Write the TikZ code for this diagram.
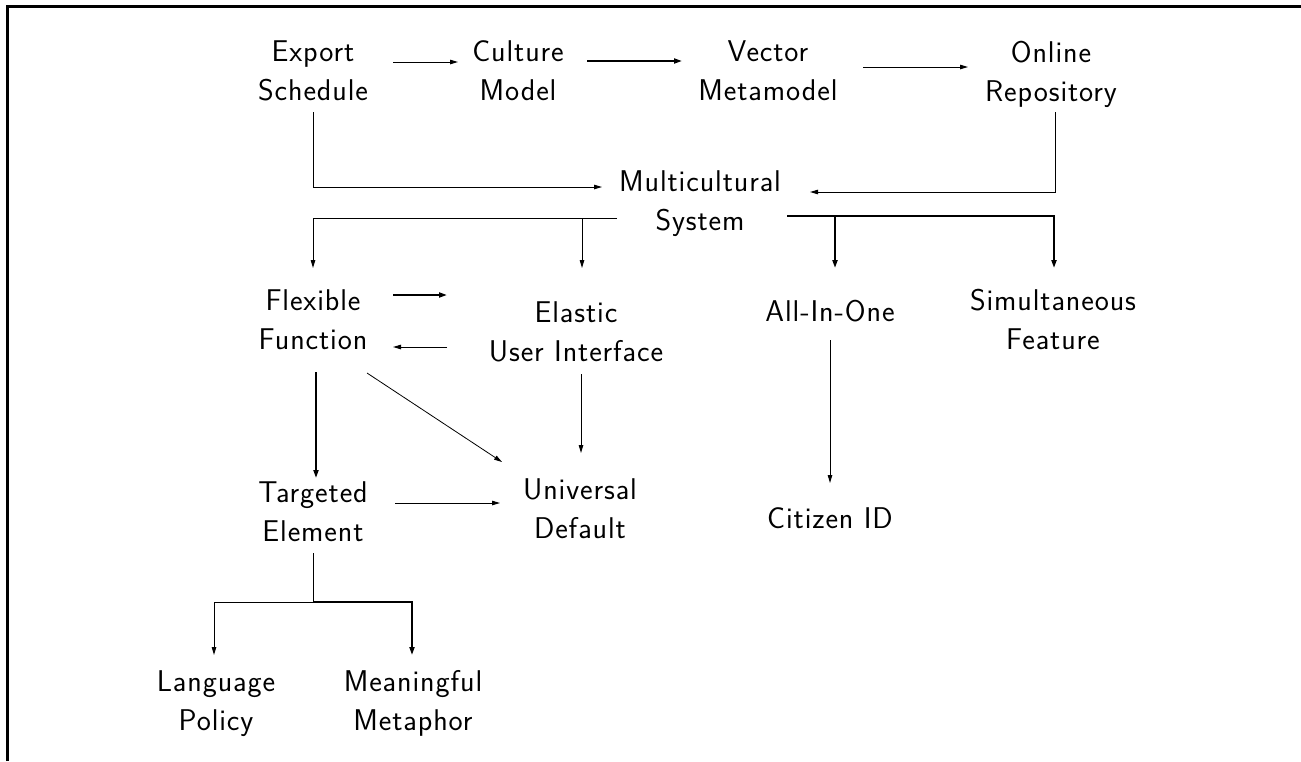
\documentclass[tikz,border=0pt]{standalone}
\usepackage{fontspec}
\newfontfamily\lblfont{lmsans17-regular.otf}[LetterSpace=3]
\usetikzlibrary{arrows.meta,calc}
\begin{document}
\begin{tikzpicture}[x=1pt,y=-1pt,
  lbl/.style={font=\lblfont\fontsize{30}{39}\selectfont, align=center, inner sep=0pt},
  arr/.style={line width=1pt,-{Triangle[length=8pt,width=4.5pt]}},
  tarr/.style={line width=1.9pt,-{Triangle[length=8pt,width=5pt]}},
  thin/.style={line width=1pt},
  thk/.style={line width=1.9pt},
  frame/.style={line width=3pt}]
\useasboundingbox (0,0) rectangle (1301,761);
\draw[frame] (7.5,761) -- (7.5,6.5) -- (1301,6.5);
% nodes
\node[lbl] (exp) at (313,73) {\strut Export\\\strut Schedule};
\node[lbl] (cul) at (518,73) {\strut Culture\\\strut Model};
\node[lbl] (vec) at (768,73) {\strut Vector\\\strut Metamodel};
\node[lbl] (onl) at (1051,74) {\strut Online\\\strut Repository};
\node[lbl] (mul) at (700,203) {\strut Multicultural\\\strut System};
\node[lbl] (flex) at (313,322) {\strut Flexible\\\strut Function};
\node[lbl] (elas) at (576,334) {\strut Elastic\\\strut User Interface};
\node[lbl] (all) at (830,314) {\strut All-In-One};
\node[lbl] (sim) at (1053,322) {\strut Simultaneous\\\strut Feature};
\node[lbl] (tar) at (313,514) {\strut Targeted\\\strut Element};
\node[lbl] (uni) at (580,511) {\strut Universal\\\strut Default};
\node[lbl] (cit) at (830,521) {\strut Citizen ID};
\node[lbl] (lan) at (216,703) {\strut Language\\\strut Policy};
\node[lbl] (mea) at (413,703) {\strut Meaningful\\\strut Metaphor};
% top row
\draw[arr] ($(exp)+(80,-11)$) -- ($(cul)+(-60,-11)$);
\draw[tarr] ($(cul)+(69,-12)$) -- ($(vec)+(-86,-12)$);
\draw[arr] ($(vec)+(95,-6)$) -- ($(onl)+(-83,-7)$);
% into multicultural
\draw[arr] ($(exp)+(0,39)$) |- ($(mul)+(-98,-16)$);
\draw[arr] ($(onl)+(4,38)$) |- ($(mul)+(110,-11)$);
% out of multicultural
\draw[arr] ($(mul)+(-83,15)$) -| ($(flex)+(0,-54)$);
\draw[arr] ($(mul)+(-118,15)$) -- ($(elas)+(6,-66)$);
\draw[tarr] ($(mul)+(87,13)$) -| ($(sim)+(1,-54)$);
\draw[tarr] ($(mul)+(135,13)$) -- ($(all)+(5,-46)$);
% flexible / elastic
\draw[tarr] ($(flex)+(80,-27)$) -- ($(elas)+(-129,-39)$);
\draw[arr] ($(elas)+(-129,13)$) -- ($(flex)+(80,25)$);
\draw[tarr] ($(flex)+(3,50)$) -- ($(tar)+(3,-36)$);
\draw[line width=0.8pt,-{Triangle[length=8pt,width=4.5pt]}] ($(flex)+(54,51)$) -- ($(uni)+(-78,-49)$);
\draw[arr] ($(elas)+(5,40)$) -- ($(uni)+(1,-58)$);
\draw[arr] ($(tar)+(82,-11)$) -- ($(uni)+(-80,-8)$);
\draw[arr] ($(all)+(0,26)$) -- ($(cit)+(0,-38)$);
% targeted split
\draw[thin] ($(tar)+(0,39)$) -- ++(0,49) coordinate (j);
\draw[arr] (j) -| ($(lan)+(-2,-48)$);
\draw[tarr] (j) -| ($(mea)+(-1,-48)$);
\end{tikzpicture}
\end{document}
